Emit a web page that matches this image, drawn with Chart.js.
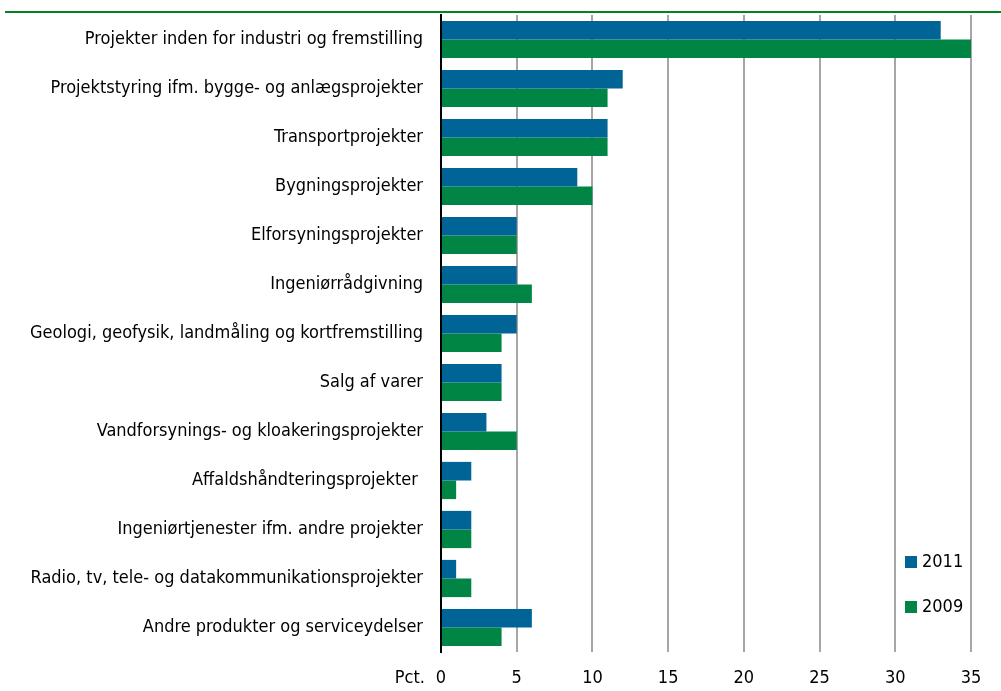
<!DOCTYPE html>
<html>
<head>
<meta charset="utf-8">
<script src="https://cdn.jsdelivr.net/npm/chart.js@4/dist/chart.umd.min.js"></script>
<style>
  html, body { margin: 0; padding: 0; background: #fff; }
  #wrap { width: 1001px; height: 691px; position: relative; }
</style>
</head>
<body>
<div id="wrap"><canvas id="bar-chart"></canvas></div>
<script>
var categories = [
    "Projekter inden for industri og fremstilling",
    "Projektstyring ifm. bygge- og anlægsprojekter",
    "Transportprojekter",
    "Bygningsprojekter",
    "Elforsyningsprojekter",
    "Ingeniørrådgivning",
    "Geologi, geofysik, landmåling og kortfremstilling",
    "Salg af varer",
    "Vandforsynings- og kloakeringsprojekter",
    "Affaldshåndteringsprojekter ",
    "Ingeniørtjenester ifm. andre projekter",
    "Radio, tv, tele- og datakommunikationsprojekter",
    "Andre produkter og serviceydelser"
];
var values2011 = [33, 12, 11, 9, 5, 5, 5, 4, 3, 2, 2, 1, 6];
var values2009 = [35, 11, 11, 10, 5, 6, 4, 4, 5, 1, 2, 2, 4];
var tickValues = [0, 5, 10, 15, 20, 25, 30, 35];

var blue = "#006496";
var green = "#008545";
var font = "'Liberation Sans Narrow', 'DejaVu Sans Condensed', sans-serif";

// green line at the top, "Pct." text and the legend inside the plot
var extras = {
    id: "extras",
    afterDraw: function(chart) {
        var ctx = chart.ctx;
        ctx.save();
        ctx.fillStyle = "#00841f";
        ctx.fillRect(5, 11, 996, 2);

        ctx.font = "18px " + font;
        ctx.fillStyle = "#000";
        ctx.textAlign = "right";
        ctx.textBaseline = "middle";
        ctx.fillText("Pct.", 425, 678);

        var items = [["2011", blue, 562], ["2009", green, 607]];
        ctx.textAlign = "left";
        items.forEach(function(it) {
            ctx.fillStyle = it[1];
            ctx.fillRect(905, it[2] - 6, 12, 12);
            ctx.fillStyle = "#000";
            ctx.fillText(it[0], 922, it[2]);
        });
        ctx.restore();
    }
};

new Chart(document.getElementById("bar-chart"), {
    type: "bar",
    data: {
        labels: categories,
        datasets: [{
            label: "2011",
            data: values2011,
            backgroundColor: blue,
            categoryPercentage: 0.76,
            barPercentage: 1
        }, {
            label: "2009",
            data: values2009,
            backgroundColor: green,
            categoryPercentage: 0.76,
            barPercentage: 1
        }]
    },
    options: {
        indexAxis: "y",
        responsive: true,
        maintainAspectRatio: false,
        animation: false,
        layout: { padding: { top: 15, right: 30, left: 0, bottom: 0 } },
        plugins: {
            legend: { display: false },
            tooltip: { enabled: false }
        },
        scales: {
            x: {
                min: 0,
                max: 35,
                afterBuildTicks: function(scale) {
                    scale.ticks = tickValues.map(function(v) { return { value: v }; });
                },
                afterFit: function(scale) {
                    scale.height = 39;
                    scale.paddingLeft = 0;
                    scale.paddingRight = 0;
                },
                grid: {
                    color: function(c) { return c.tick.value === 0 ? "rgba(0,0,0,0)" : "#a6a6a6"; },
                    lineWidth: 2,
                    drawTicks: false
                },
                border: { display: false },
                ticks: {
                    padding: 16,
                    color: "#000",
                    font: { family: font, size: 18 }
                }
            },
            y: {
                afterFit: function(scale) {
                    scale.width = 441;
                    scale.paddingTop = 0;
                    scale.paddingBottom = 0;
                },
                grid: { display: false, drawTicks: false },
                border: { display: true, color: "#000", width: 2 },
                ticks: {
                    padding: 18,
                    color: "#000",
                    font: { family: font, size: 18 }
                }
            }
        }
    },
    plugins: [extras]
});
</script>
</body>
</html>
